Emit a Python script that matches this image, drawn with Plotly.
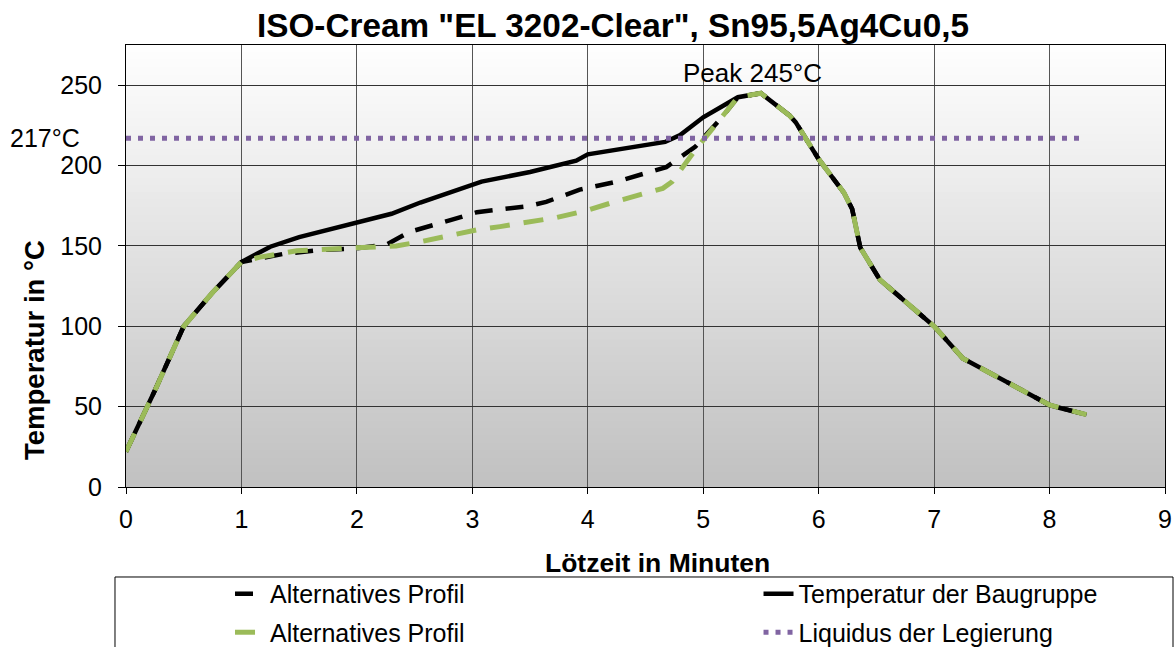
import plotly.graph_objects as go

# ---------------- data ----------------
title_text = 'ISO-Cream "EL 3202-Clear", Sn95,5Ag4Cu0,5'
x_title = "Lötzeit in Minuten"
y_title = "Temperatur in °C"

name_alt = "Alternatives Profil"
name_main = "Temperatur der Baugruppe"
name_liq = "Liquidus der Legierung"

# common ramp-up (0 .. 1 min)
ramp_x = [0, 0.25, 0.5, 0.75, 1.0]
ramp_y = [22, 60, 100, 121, 140]

# common cooling (after peak)
cool_x = [5.5, 5.75, 5.8, 6.0, 6.22, 6.29, 6.36, 6.53, 7.0, 7.25, 8.0, 8.1, 8.32]
cool_y = [245, 231, 227, 204, 183, 173, 149, 129, 100, 80, 51, 49, 45]

# main profile (soak section)
main_mid_x = [1.25, 1.5, 1.75, 2.0, 2.3, 2.55, 2.8, 3.08, 3.5, 3.9, 4.0, 4.3, 4.67, 4.8, 5.0, 5.3]
main_mid_y = [149.5, 155.5, 160, 165, 170, 177, 183, 190, 196, 203, 207, 210.5, 214.7, 219, 230, 242.5]

# alternative profile 1 (black dashed)
alt1_mid_x = [1.36, 1.68, 2.0, 2.26, 2.46, 2.81, 3.04, 3.48, 3.64, 3.93, 4.05, 4.25, 4.68, 4.93, 5.15, 5.3]
alt1_mid_y = [145, 147.4, 148.5, 151, 158.8, 166, 171, 174.7, 177.4, 185, 187, 190, 199, 211.6, 229, 242.5]

# alternative profile 2 (green dashed)
alt2_mid_x = [1.16, 1.48, 1.97, 2.34, 2.55, 3.04, 3.24, 3.73, 3.99, 4.25, 4.65, 4.73, 4.93, 5.15, 5.3]
alt2_mid_y = [143, 147, 148.4, 150, 152.6, 160, 162, 167.7, 172, 177.8, 185.8, 189.9, 209.6, 229, 242.5]

liq_x = [0, 8.3]
liq_y = [217, 217]

peak_x = 5.5
peak_val = 245
liq_val = 217

x_ticks = list(range(0, 10))
y_ticks = [0, 50, 100, 150, 200, 250]

# ---------------- figure ----------------
FONT = "Liberation Sans, Arial, sans-serif"
BLACK = "#000000"
GREEN = "#9BBB59"
PURPLE = "#8064A2"

fig = go.Figure()

fig.add_trace(go.Scatter(
    x=ramp_x + main_mid_x + cool_x, y=ramp_y + main_mid_y + cool_y,
    mode="lines", name=name_main, legend="legend2", legendrank=1, legendgroup="g1",
    line=dict(color=BLACK, width=4.5)))

fig.add_trace(go.Scatter(
    x=ramp_x + alt1_mid_x + cool_x, y=ramp_y + alt1_mid_y + cool_y,
    mode="lines", name=name_alt, legend="legend", legendrank=1, legendgroup="g2",
    line=dict(color=BLACK, width=4.5, dash="18px,13px")))

fig.add_trace(go.Scatter(
    x=ramp_x + alt2_mid_x + cool_x, y=ramp_y + alt2_mid_y + cool_y,
    mode="lines", name=name_alt, legend="legend", legendrank=2, legendgroup="g3",
    line=dict(color=GREEN, width=5, dash="20px,14px")))

fig.add_trace(go.Scatter(
    x=liq_x, y=liq_y,
    mode="lines", name=name_liq, legend="legend2", legendrank=2, legendgroup="g4",
    line=dict(color=PURPLE, width=5, dash="5px,7px")))

# gradient background of the plot area
shapes = []
n = 60
for i in range(n):
    f = (i + 0.5) / n  # 0 bottom .. 1 top
    c = int(round(192 + (255 - 192) * f))
    shapes.append(dict(type="rect", xref="x domain", yref="y domain",
                       x0=0, x1=1, y0=i / n, y1=(i + 1) / n + 0.002,
                       fillcolor=f"rgb({c},{c},{c})", line=dict(width=0),
                       layer="below"))
# legend frame
shapes.append(dict(type="rect", xref="paper", yref="paper",
                   x0=-0.0106, x1=1.0077, y0=-0.5, y1=-0.2036,
                   line=dict(color="#000000", width=1), fillcolor="rgba(0,0,0,0)"))

annotations = [
    dict(text=f"<b>{title_text}</b>", xref="paper", yref="paper",
         x=0.469, y=1.045, xanchor="center", yanchor="middle", showarrow=False,
         font=dict(family=FONT, size=33.3, color="black")),
    dict(text=f"<b>{x_title}</b>", xref="paper", yref="paper",
         x=0.512, y=-0.172, xanchor="center", yanchor="middle", showarrow=False,
         font=dict(family=FONT, size=26.5, color="black")),
    dict(text=f"<b>{y_title}</b>", xref="paper", yref="paper",
         x=-0.0876, y=0.31, xanchor="center", yanchor="middle", showarrow=False,
         textangle=-90, font=dict(family=FONT, size=27.5, color="black")),
    dict(text=f"Peak {peak_val}°C", x=peak_x, y=peak_val, xref="x", yref="y",
         xanchor="center", yanchor="bottom", xshift=-8, yshift=3, showarrow=False,
         font=dict(family=FONT, size=26, color="black")),
    dict(text=f"{liq_val}°C", x=0, y=liq_val, xref="x", yref="y",
         xanchor="right", yanchor="middle", xshift=-44, showarrow=False,
         font=dict(family=FONT, size=25, color="black")),
]

leg_common = dict(orientation="v", xanchor="left", yanchor="top",
                  xref="container", yref="container",
                  bgcolor="rgba(0,0,0,0)", borderwidth=0,
                  font=dict(family=FONT, size=25, color="black"), tracegroupgap=3)

fig.update_layout(
    width=1176, height=647, autosize=False,
    margin=dict(l=126, r=11, t=45, b=160, autoexpand=False),
    paper_bgcolor="white", plot_bgcolor="white",
    font=dict(family=FONT, size=24, color="black"),
    shapes=shapes, annotations=annotations,
    legend=dict(x=0.1956, y=0.1175, **leg_common),
    legend2=dict(x=0.645, y=0.1175, **leg_common),
    showlegend=True,
)

fig.update_xaxes(range=[0, 9], tickvals=x_ticks, showgrid=True, gridcolor="#555555", gridwidth=1,
                 showline=True, linecolor="black", linewidth=1, mirror=True,
                 ticks="outside", ticklen=6, tickcolor="black", zeroline=False,
                 ticklabelstandoff=4, automargin=False,
                 tickfont=dict(family=FONT, size=25, color="black"))
fig.update_yaxes(range=[0, 275], tickvals=y_ticks, showgrid=True, gridcolor="#333333", gridwidth=1,
                 showline=True, linecolor="black", linewidth=1, mirror=True,
                 ticks="outside", ticklen=7, tickcolor="black", zeroline=False,
                 ticklabelstandoff=11, automargin=False,
                 tickfont=dict(family=FONT, size=25, color="black"))

fig.write_html("out.html", config={"displayModeBar": False},
               post_script="document.body.style.margin='0px';document.body.style.overflow='hidden';")
